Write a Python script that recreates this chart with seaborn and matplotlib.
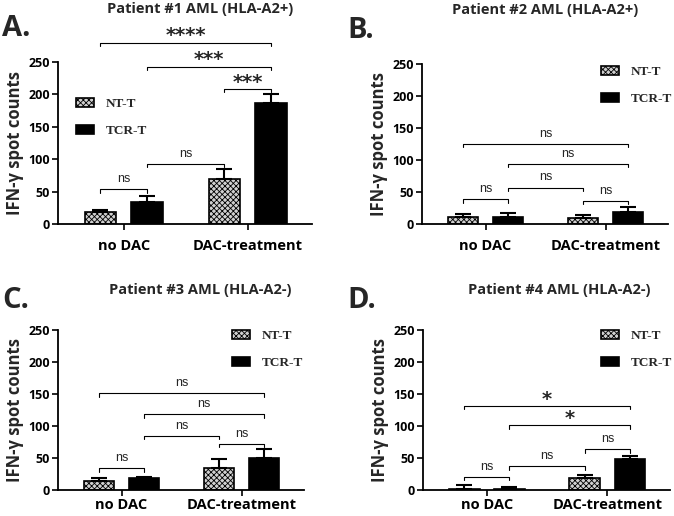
import numpy as np
import pandas as pd
import matplotlib
matplotlib.use("Agg")
import matplotlib.pyplot as plt
import seaborn as sns

sns.set_theme(style="ticks")
plt.rcParams["font.family"] = ["Open Sans", "DejaVu Sans"]
plt.rcParams["hatch.linewidth"] = 0.6

# ---------------- data ----------------
groups = ["no DAC", "DAC-treatment"]
cells = ["NT-T", "TCR-T"]
titles = ["Patient #1 AML (HLA-A2+)", "Patient #2 AML (HLA-A2+)",
          "Patient #3 AML (HLA-A2-)", "Patient #4 AML (HLA-A2-)"]
letters = ["A.", "B.", "C.", "D."]

# means: [no DAC, DAC-treatment]
A_nt = [18, 69];   A_nt_err = [3.5, 16]
A_tcr = [34, 187]; A_tcr_err = [9, 14]
B_nt = [11.4, 9.4];  B_nt_err = [5, 5]
B_tcr = [11.4, 18.2]; B_tcr_err = [5.5, 9]
C_nt = [14.5, 33.7];  C_nt_err = [3.5, 14]
C_tcr = [18.7, 50.3]; C_tcr_err = [2, 13]
D_nt = [2, 18.7];   D_nt_err = [6.3, 4]
D_tcr = [2, 47.7];  D_tcr_err = [3, 5.7]

# bar index: 0 NT/noDAC, 1 TCR/noDAC, 2 NT/DAC, 3 TCR/DAC
A_pairs = [(0, 1), (1, 2), (2, 3), (1, 3), (0, 3)]
A_heights = [53.5, 92.6, 208, 243, 280]
A_labels = ["ns", "ns", "***", "***", "****"]
B_pairs = [(0, 1), (1, 2), (2, 3), (1, 3), (0, 3)]
B_heights = [38.5, 57, 36.4, 93.6, 124.7]
B_labels = ["ns", "ns", "ns", "ns", "ns"]
C_pairs = [(0, 1), (1, 2), (2, 3), (1, 3), (0, 3)]
C_heights = [33.7, 84, 72, 118, 151]
C_labels = ["ns", "ns", "ns", "ns", "ns"]
D_pairs = [(0, 1), (1, 2), (2, 3), (1, 3), (0, 3)]
D_heights = [20.7, 37, 63.5, 101, 131.6]
D_labels = ["ns", "ns", "ns", "*", "*"]

panels = [
    (A_nt, A_nt_err, A_tcr, A_tcr_err, A_pairs, A_heights, A_labels),
    (B_nt, B_nt_err, B_tcr, B_tcr_err, B_pairs, B_heights, B_labels),
    (C_nt, C_nt_err, C_tcr, C_tcr_err, C_pairs, C_heights, C_labels),
    (D_nt, D_nt_err, D_tcr, D_tcr_err, D_pairs, D_heights, D_labels),
]

# ---------------- layout (pixels) ----------------
W, H = 674, 516
fig = plt.figure(figsize=(W / 100, H / 100), dpi=100)

def box(l, r, t, b):
    return [l / W, (H - b) / H, (r - l) / W, (b - t) / H]

axes_px = [(58, 312, 62, 224), (422, 668, 64, 224),
           (58, 304, 330, 490), (423, 670, 330, 490)]
title_px = [(200, 9), (545, 10), (200, 290), (559, 290)]
letter_px = [(2, 29), (347, 31), (2, 300), (347, 300)]
legend_anchor = [(0.045, 0.82), (0.70, 1.03), (0.68, 1.04), (0.695, 1.04)]
xpad = [7, 7, 2, 2]

for k, (nt, nte, tcr, tcre, pairs, heights, labels) in enumerate(panels):
    ax = fig.add_axes(box(*axes_px[k]))
    df = pd.DataFrame({
        "treatment": groups * 2,
        "cell": [cells[0]] * 2 + [cells[1]] * 2,
        "value": list(nt) + list(tcr),
    })
    sns.barplot(data=df, x="treatment", y="value", hue="cell",
                order=groups, hue_order=cells, errorbar=None,
                palette={"NT-T": "white", "TCR-T": "black"},
                width=0.75, gap=0.32, edgecolor="black", linewidth=1.2,
                ax=ax)
    nt_bars = list(ax.containers[0])
    tcr_bars = list(ax.containers[1])
    for p in nt_bars:
        p.set_hatch("xxxxxx")
        p.set_facecolor("#d0d0d0")
    bars = [nt_bars[0], tcr_bars[0], nt_bars[1], tcr_bars[1]]
    errs = [nte[0], tcre[0], nte[1], tcre[1]]
    centers = [b.get_x() + b.get_width() / 2 for b in bars]
    tops = [b.get_height() for b in bars]
    ax.errorbar(centers, tops, yerr=[np.zeros(4), errs], fmt="none",
                ecolor="black", elinewidth=1.5, capsize=5.5, capthick=1.5,
                zorder=3)

    drop = 5
    for (i, j), h, lab in zip(pairs, heights, labels):
        ax.plot([centers[i], centers[i], centers[j], centers[j]],
                [h - drop, h, h, h - drop], color="black", lw=0.8,
                clip_on=False)
        star = lab != "ns"
        if star:
            ax.annotate(lab, xy=((centers[i] + centers[j]) / 2, h),
                        xytext=(0, -2), textcoords="offset points",
                        ha="center", va="bottom", fontsize=14,
                        fontweight="bold", family=["DejaVu Sans"],
                        annotation_clip=False)
        else:
            ax.annotate(lab, xy=((centers[i] + centers[j]) / 2, h),
                        xytext=(0, 3), textcoords="offset points",
                        ha="center", va="bottom", fontsize=9,
                        family=["Liberation Sans", "DejaVu Sans"],
                        annotation_clip=False)

    ax.set_xlim(-0.53, 1.52)
    ax.set_ylim(0, 250)
    ax.set_yticks([0, 50, 100, 150, 200, 250])
    ax.set_xlabel("")
    ax.set_ylabel("IFN-γ spot counts", fontsize=12, fontweight="bold",
                  labelpad=3)
    for s in ["top", "right"]:
        ax.spines[s].set_visible(False)
    for s in ["left", "bottom"]:
        ax.spines[s].set_linewidth(1.3)
        ax.spines[s].set_color("black")
    ax.tick_params(axis="y", length=4, width=1.2, labelsize=9, pad=2,
                   colors="black")
    ax.tick_params(axis="x", length=4, width=1.2, labelsize=10.5,
                   pad=xpad[k], colors="black")
    for t in ax.get_xticklabels() + ax.get_yticklabels():
        t.set_fontweight("bold")

    if ax.get_legend() is not None:
        ax.get_legend().remove()
    ax.legend(handles=[nt_bars[0], tcr_bars[0]], labels=cells,
              loc="upper left", bbox_to_anchor=legend_anchor[k],
              frameon=False, handlelength=1.35, handleheight=0.65,
              labelspacing=1.15, handletextpad=0.9, borderpad=0,
              prop={"family": "Liberation Serif", "weight": "bold",
                    "size": 9.5})

    tx, ty = title_px[k]
    fig.text(tx / W, 1 - ty / H, titles[k], ha="center", va="center",
             fontsize=10.5, fontweight="bold")
    lx, ly = letter_px[k]
    fig.text(lx / W, 1 - ly / H, letters[k], ha="left", va="center",
             fontsize=21, fontweight="bold")

fig.savefig("out.png", dpi=100)
